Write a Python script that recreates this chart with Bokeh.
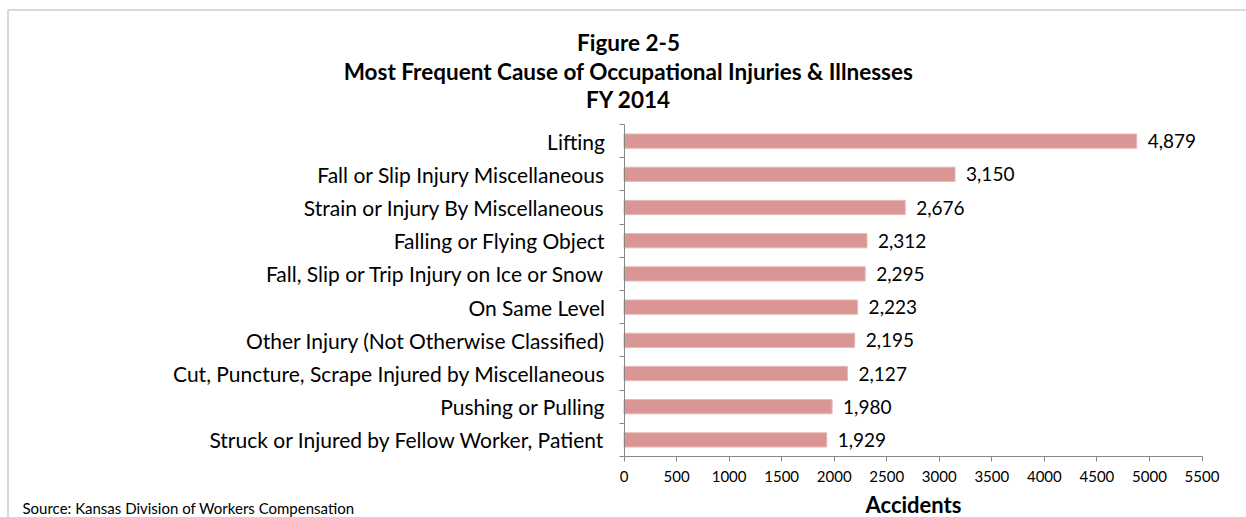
from bokeh.plotting import figure
from bokeh.models import (ColumnDataSource, Range1d, FixedTicker, LabelSet, Label, BoxAnnotation)
from bokeh.core.properties import value
from bokeh.embed import file_html
from bokeh.resources import INLINE

# ---- data ----
causes = [
    "Lifting",
    "Fall or Slip Injury Miscellaneous",
    "Strain or Injury By Miscellaneous",
    "Falling or Flying Object",
    "Fall, Slip or Trip Injury on Ice or Snow",
    "On Same Level",
    "Other Injury (Not Otherwise Classified)",
    "Cut, Puncture, Scrape Injured by Miscellaneous",
    "Pushing or Pulling",
    "Struck or Injured by Fellow Worker, Patient",
]
accidents = [4879, 3150, 2676, 2312, 2295, 2223, 2195, 2127, 1980, 1929]
x_ticks = [0, 500, 1000, 1500, 2000, 2500, 3000, 3500, 4000, 4500, 5000, 5500]
title_lines = ["Figure 2-5",
               "Most Frequent Cause of Occupational Injuries & Illnesses",
               "FY 2014"]
x_label = "Accidents"
source_note = "Source: Kansas Division of Workers Compensation"

FONT = "Lato"
n = len(causes)
XMAX = x_ticks[-1]
ypos = [n - 0.5 - i for i in range(n)]
src = ColumnDataSource(dict(
    y=ypos, v=accidents, lab=[f"{a:,}" for a in accidents]))

# ---- layout (pixels on the canvas) ----
W, H = 1246, 517
PX0, PX1 = 623.5, 1201.5      # where 0 and XMAX sit
PYTOP, PYBOT = 124.0, 456.0    # top / bottom of category band
sx = (PX1 - PX0) / XMAX
sy = (PYBOT - PYTOP) / n
x_range = Range1d(-PX0 / sx, (W - PX0) / sx)
y_range = Range1d(-(H - PYBOT) / sy, n + PYTOP / sy)

p = figure(width=W, height=H, output_backend="svg", toolbar_location=None,
           x_range=x_range, y_range=y_range,
           min_border_left=0, min_border_right=0,
           min_border_top=0, min_border_bottom=0)
p.outline_line_color = None
p.xgrid.visible = False
p.ygrid.visible = False

# outer chart border (screen units)
p.add_layout(BoxAnnotation(left=7.5, right=W + 100, top=H - 9.5, bottom=-100,
                           left_units="screen", right_units="screen",
                           top_units="screen", bottom_units="screen",
                           fill_alpha=0, line_color="#808080", line_width=2))

p.hbar(y="y", right="v", left=0, height=0.43, source=src,
       fill_color="#D99694", line_color="#E6B9B8", line_width=1)

labels = LabelSet(x="v", y="y", text="lab", source=src, x_offset=11,
                  text_baseline="middle", text_font=value(FONT), text_font_size="19px",
                  text_color="#000000")
p.add_layout(labels)

# x axis
xa = p.xaxis[0]
xa.fixed_location = 0
xa.bounds = (0, XMAX)
xa.ticker = FixedTicker(ticks=x_ticks)
xa.axis_line_color = "#868686"
xa.major_tick_line_color = "#868686"
xa.major_tick_out = 5
xa.major_tick_in = 0
xa.minor_tick_line_color = None
xa.major_label_text_font = FONT
xa.major_label_text_font_size = "15px"
xa.major_label_text_color = "#000000"
xa.major_label_standoff = 9
xa.axis_label = x_label
xa.axis_label_text_font = FONT
xa.axis_label_text_font_style = "bold"
xa.axis_label_text_font_size = "22px"
xa.axis_label_text_color = "#000000"
xa.axis_label_standoff = 6

# y axis
ya = p.yaxis[0]
ya.fixed_location = 0
ya.bounds = (0, n)
ya.ticker = FixedTicker(ticks=ypos, minor_ticks=list(range(n + 1)))
ya.major_label_overrides = {y: c for y, c in zip(ypos, causes)}
ya.axis_line_color = "#868686"
ya.major_tick_line_color = None
ya.minor_tick_line_color = "#868686"
ya.minor_tick_out = 5
ya.minor_tick_in = 0
ya.major_label_text_font = FONT
ya.major_label_text_font_size = "21px"
ya.major_label_text_color = "#000000"
ya.major_label_standoff = 13

# titles (screen units, y from bottom)
for t, yc in zip(title_lines, [42, 71, 99]):
    p.add_layout(Label(x=628, y=H - yc, x_units="screen", y_units="screen",
                       text=t, text_align="center", text_baseline="middle",
                       text_font=FONT, text_font_style="bold", text_font_size="22.5px",
                       text_color="#000000"))

p.add_layout(Label(x=22, y=H - 507, x_units="screen", y_units="screen",
                   text=source_note, text_align="left", text_baseline="middle",
                   text_font=FONT, text_font_size="15px", text_color="#000000"))

open("out.html", "w").write(file_html(p, INLINE))
